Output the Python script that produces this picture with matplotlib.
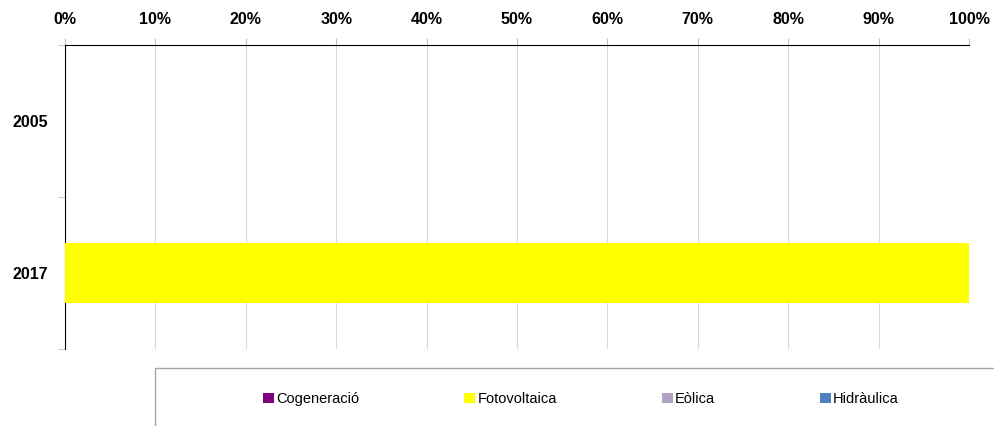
import numpy as np
import matplotlib.pyplot as plt
from matplotlib.patches import Rectangle

plt.rcParams['font.family'] = ['Liberation Sans Narrow', 'Liberation Sans', 'DejaVu Sans']

# Data (shares per year)
years = ['2005', '2017']
sources = ['Cogeneració', 'Fotovoltaica', 'Eòlica', 'Hidràulica']
colors = ['#800080', '#ffff00', '#b3a2c7', '#4f81bd']
cogeneracio = [0.0, 0.0]
fotovoltaica = [0.0, 1.0]
eolica = [0.0, 0.0]
hidraulica = [0.0, 0.0]
series = [cogeneracio, fotovoltaica, eolica, hidraulica]
xticks = np.arange(0, 1.01, 0.1)
xtick_labels = ['0%', '10%', '20%', '30%', '40%', '50%', '60%', '70%', '80%', '90%', '100%']

fig = plt.figure(figsize=(9.94, 4.26), dpi=100)
ax = fig.add_axes([0.0654, 0.1808, 0.9094, 0.7136])

y = np.arange(len(years))
left = np.zeros(len(years))
for name, vals, c in zip(sources, series, colors):
    ax.barh(y, vals, left=left, height=0.4, color=c, label=name, zorder=3)
    left += np.array(vals)

ax.set_xlim(0, 1)
ax.set_ylim(1.5, -0.5)

ax.xaxis.tick_top()
ax.set_xticks(xticks)
ax.set_xticklabels(xtick_labels, fontsize=11.5, fontweight='bold')
ax.tick_params(axis='x', length=5, color='#bfbfbf', pad=8)
ax.grid(axis='x', color='#d9d9d9', linewidth=0.8, zorder=0)

ax.set_yticks(y)
ax.set_yticklabels(years, fontsize=11.5, fontweight='bold')
ax.set_yticks([-0.5, 0.5, 1.5], minor=True)
ax.tick_params(axis='y', which='major', length=0, pad=12)
ax.tick_params(axis='y', which='minor', length=5, color='#bfbfbf')

for s in ['right', 'bottom']:
    ax.spines[s].set_visible(False)
ax.spines['top'].set_color('black')
ax.spines['left'].set_color('black')

# legend box running off the bottom/right edge
fig.patches.append(Rectangle((155 / 994, -0.05), 0.9, 1 - 368 / 426 + 0.05,
                             transform=fig.transFigure, fill=False,
                             edgecolor='#a6a6a6', linewidth=1))
handles, labels = ax.get_legend_handles_labels()
fig.legend(handles, labels, ncol=4, frameon=False, fontsize=10.5,
           loc='center left', bbox_to_anchor=(250 / 994, 1 - 399 / 426),
           handlelength=0.75, handleheight=0.75, handletextpad=0.15,
           columnspacing=7.2)

fig.savefig('out.png', dpi=100)
